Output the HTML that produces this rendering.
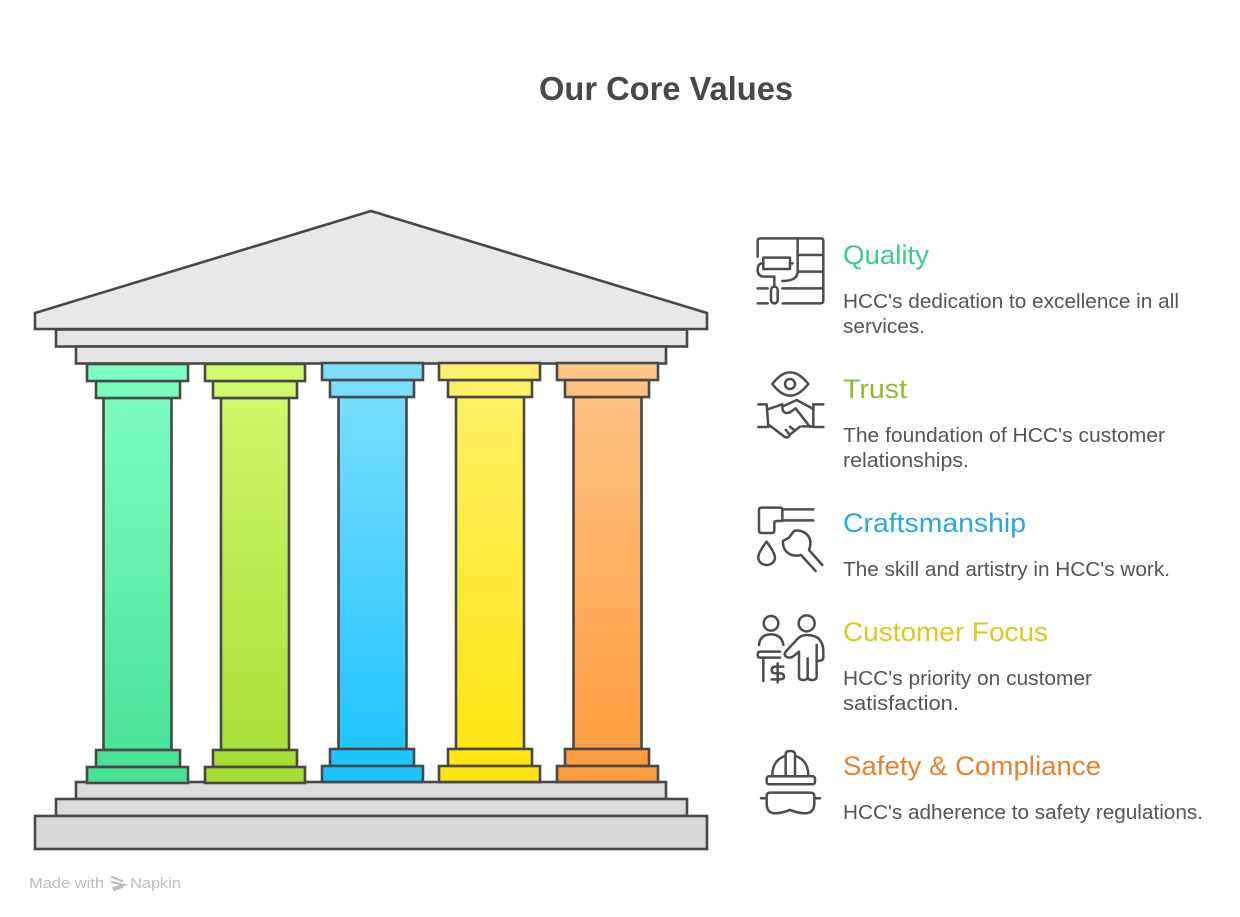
<!DOCTYPE html>
<html><head><meta charset="utf-8"><style>
html,body{margin:0;padding:0;background:#fff}
svg{display:block;filter:blur(.35px)}
text{font-family:"Liberation Sans",sans-serif}
.h{font-size:27px}
.d{font-size:20.5px;fill:#555}
.i{fill:none;stroke:#4d4d4d;stroke-width:7.5;stroke-linecap:round;stroke-linejoin:round}
</style></head><body>
<svg width="1240" height="917" viewBox="0 0 1240 917" xmlns="http://www.w3.org/2000/svg">
<defs>
<linearGradient id="g1" gradientUnits="userSpaceOnUse" x1="0" y1="363" x2="0" y2="783"><stop offset="0" stop-color="#80ffc3"/><stop offset="1" stop-color="#45e096"/></linearGradient>
<linearGradient id="g2" gradientUnits="userSpaceOnUse" x1="0" y1="363" x2="0" y2="783"><stop offset="0" stop-color="#d2fb6e"/><stop offset="1" stop-color="#a5db32"/></linearGradient>
<linearGradient id="g3" gradientUnits="userSpaceOnUse" x1="0" y1="363" x2="0" y2="783"><stop offset="0" stop-color="#80dfff"/><stop offset="1" stop-color="#19c2ff"/></linearGradient>
<linearGradient id="g4" gradientUnits="userSpaceOnUse" x1="0" y1="363" x2="0" y2="783"><stop offset="0" stop-color="#fff06c"/><stop offset="1" stop-color="#ffe50c"/></linearGradient>
<linearGradient id="g5" gradientUnits="userSpaceOnUse" x1="0" y1="363" x2="0" y2="783"><stop offset="0" stop-color="#ffc487"/><stop offset="1" stop-color="#ff9a3b"/></linearGradient>
</defs>

<text x="539" y="100" font-size="33" font-weight="700" fill="#484848" textLength="254" lengthAdjust="spacingAndGlyphs">Our Core Values</text>

<g stroke="#484848" stroke-width="2.6" stroke-linejoin="miter">
<polygon points="35,313 371,211 707,313 707,329 35,329" fill="#e8e8e8"/>
<rect x="56" y="329.5" width="631" height="17" fill="#e6e6e6"/>
<rect x="76" y="346.5" width="590" height="17" fill="#e4e4e4"/>
<rect x="76" y="782" width="590" height="17" fill="#dcdcdc"/>
<rect x="56" y="799" width="631" height="17" fill="#dadada"/>
<rect x="35" y="816" width="672" height="33" fill="#d8d8d8"/>

<g fill="url(#g1)">
<rect x="103.500" y="398" width="68" height="352"/>
<rect x="96" y="381" width="84" height="17"/><rect x="87" y="364" width="101" height="17"/>
<rect x="96" y="750" width="84" height="17"/><rect x="87" y="767" width="101" height="16"/>
</g>
<g fill="url(#g2)">
<rect x="221" y="398" width="68" height="352"/>
<rect x="213" y="381" width="84" height="17"/><rect x="205" y="364" width="100" height="17"/>
<rect x="213" y="750" width="84" height="17"/><rect x="205" y="767" width="100" height="16"/>
</g>
<g fill="url(#g3)">
<rect x="338.500" y="397" width="68" height="352"/>
<rect x="330" y="380" width="84" height="17"/><rect x="322" y="363" width="101" height="17"/>
<rect x="330" y="749" width="84" height="17"/><rect x="322" y="766" width="101" height="16"/>
</g>
<g fill="url(#g4)">
<rect x="456" y="397" width="68" height="352"/>
<rect x="448" y="380" width="84" height="17"/><rect x="439" y="363" width="101" height="17"/>
<rect x="448" y="749" width="84" height="17"/><rect x="439" y="766" width="101" height="16"/>
</g>
<g fill="url(#g5)">
<rect x="573.500" y="397" width="68" height="352"/>
<rect x="565" y="380" width="84" height="17"/><rect x="557" y="363" width="101" height="17"/>
<rect x="565" y="749" width="84" height="17"/><rect x="557" y="766" width="101" height="16"/>
</g>
</g>

<!-- icons -->
<g class="i" transform="translate(745 225) scale(.3333)">
<path d="M38 95V48Q38 40 46 40H227Q235 40 235 48V227Q235 235 227 235H113"/>
<path d="M158 40V140Q158 168 112 168M158 90H235M158 140H235M112 190H235M38 190H68M38 235H68"/>
<rect x="55" y="98" width="80" height="34"/><path d="M135 115H143M55 115H50Q38 118 38 135Q38 155 60 155H88V185"/>
<rect x="78" y="185" width="20" height="50" rx="10"/>
<path d="M82 477Q135 407 190 477Q135 547 82 477Z"/><circle cx="135" cy="477" r="15"/>
<path d="M40 538H65L70 606H40M235 538H205V606H235"/>
<path d="M68 553L112 538M112 545L155 525L205 552M72 600L118 635Q130 642 136 628L150 617L165 605M112 545Q112 570 135 562L152 550L195 606M172 604H205M122 615L135 630M135 605L150 617"/>
</g>
<g class="i" transform="translate(745 495) scale(.3333)">
<path d="M42 45Q42 38 50 38H105Q112 38 112 45V78H95Q88 78 88 85V107Q88 114 80 114H50Q42 114 42 107ZM112 43H205M112 76H205"/>
<path d="M65 140Q38 175 40 188A25 22 0 0 0 90 188Q90 175 65 140Z"/>
<path d="M232 210L192 165Q205 130 178 112Q162 104 147 108L132 128L114 138Q112 165 135 178Q150 185 168 180L212 228"/>
<circle cx="78" cy="385" r="22"/><path d="M42 450Q45 418 78 418Q110 418 115 450"/>
<path d="M105 470H45Q38 470 38 479Q38 488 45 488H105M55 488V558"/>
<path d="M115 515H92Q80 515 80 525Q80 535 92 535H105Q117 535 117 545Q117 553 105 553H80M98 505V562"/>
<circle cx="185" cy="385" r="24"/>
<path d="M122 470L150 440Q165 420 185 420Q235 420 235 470V488Q235 498 218 498"/>
<path d="M122 470Q115 480 125 486Q135 490 142 486L162 470V545Q162 555 175 555Q188 555 188 545V490V545Q188 555 202 555Q215 555 215 545V450"/>
<path d="M82 842Q82 795 122 782M150 782Q190 795 190 842M122 842V778Q122 768 135 768Q150 768 150 778V842"/>
<rect x="65" y="844" width="145" height="24" rx="7"/>
<path d="M48 910H65M208 910H225M75 893H197Q208 893 208 905V925Q208 955 180 955Q160 955 135 945Q110 955 90 955Q65 955 65 925V905Q65 893 75 893Z"/>
</g>

<text class="h" x="843" y="264" fill="#3ecb8b" textLength="86" lengthAdjust="spacingAndGlyphs">Quality</text>
<text class="d" x="843" y="308" textLength="336" lengthAdjust="spacingAndGlyphs">HCC's dedication to excellence in all</text>
<text class="d" x="843" y="333" textLength="82" lengthAdjust="spacingAndGlyphs">services.</text>

<text class="h" x="843" y="398" fill="#8dbb2f" textLength="64" lengthAdjust="spacingAndGlyphs">Trust</text>
<text class="d" x="843" y="442" textLength="322" lengthAdjust="spacingAndGlyphs">The foundation of HCC's customer</text>
<text class="d" x="843" y="467" textLength="126" lengthAdjust="spacingAndGlyphs">relationships.</text>

<text class="h" x="843" y="532" fill="#27a8de" textLength="183" lengthAdjust="spacingAndGlyphs">Craftsmanship</text>
<text class="d" x="843" y="576" textLength="327" lengthAdjust="spacingAndGlyphs">The skill and artistry in HCC's work.</text>

<text class="h" x="843" y="641" fill="#dfc71c" textLength="205" lengthAdjust="spacingAndGlyphs">Customer Focus</text>
<text class="d" x="843" y="685" textLength="249" lengthAdjust="spacingAndGlyphs">HCC's priority on customer</text>
<text class="d" x="843" y="710" textLength="116" lengthAdjust="spacingAndGlyphs">satisfaction.</text>

<text class="h" x="843" y="775" fill="#e4822f" textLength="258" lengthAdjust="spacingAndGlyphs">Safety &amp; Compliance</text>
<text class="d" x="843" y="819" textLength="360" lengthAdjust="spacingAndGlyphs">HCC's adherence to safety regulations.</text>

<text x="29" y="888" font-size="15" fill="#bdbdbd" textLength="75" lengthAdjust="spacingAndGlyphs">Made with</text>
<path d="M112 877L122 881M112 882L124 885L113 888M114 890L122 887" fill="none" stroke="#bdbdbd" stroke-width="2.2" stroke-linecap="round"/>
<text x="130" y="888" font-size="15" fill="#bdbdbd" textLength="51" lengthAdjust="spacingAndGlyphs">Napkin</text>
</svg>
</body></html>
